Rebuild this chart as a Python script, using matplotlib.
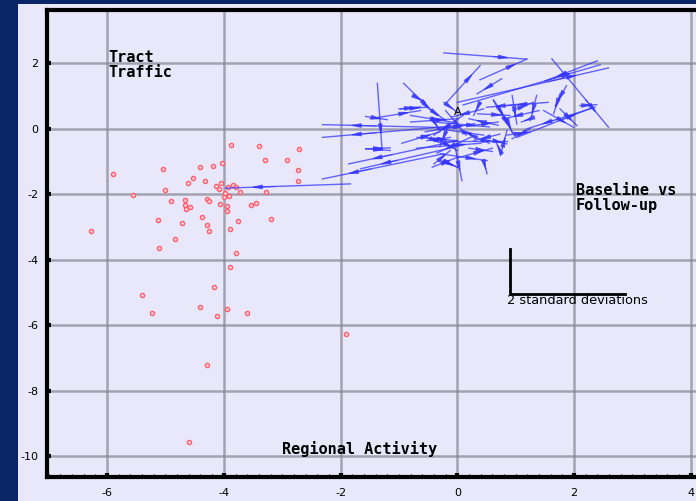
import numpy as np
import matplotlib.pyplot as plt
from matplotlib.patches import Rectangle

plt.rcParams['axes.unicode_minus'] = False

# red points (baseline regional activity)
red_x = [-3.88, -3.40, -2.72, -4.04, -3.30, -2.91, -2.73, -2.73, -4.40, -4.19,
         -5.04, -5.90, -4.52, -4.62, -4.33, -4.05, -4.14, -4.09, -5.01, -3.85,
         -3.93, -3.79, -3.73, -3.27, -5.56, -3.98, -4.00, -3.91, -4.91, -4.66,
         -4.29, -4.26, -4.66, -4.58, -4.64, -4.07, -3.95, -3.95, -3.45, -3.53,
         -4.38, -5.13, -4.71, -4.28, -4.26, -3.75, -3.19, -6.27, -3.89, -4.83,
         -5.11, -3.79, -3.89, -4.17, -5.41, -4.40, -3.94, -5.23, -4.12, -3.60,
         -1.90, -4.28, -4.59]
red_y = [-0.51, -0.53, -0.61, -1.04, -0.96, -0.96, -1.28, -1.59, -1.18, -1.14,
         -1.23, -1.39, -1.51, -1.67, -1.59, -1.65, -1.75, -1.85, -1.89, -1.72,
         -1.78, -1.80, -1.93, -1.93, -2.04, -1.97, -2.08, -2.05, -2.22, -2.18,
         -2.15, -2.20, -2.34, -2.41, -2.47, -2.31, -2.38, -2.52, -2.26, -2.32,
         -2.69, -2.79, -2.89, -2.93, -3.14, -2.82, -2.75, -3.14, -3.08, -3.38,
         -3.65, -3.79, -4.22, -4.83, -5.09, -5.45, -5.52, -5.64, -5.72, -5.64,
         -6.27, -7.22, -9.56]

# blue arrows (tract traffic): start -> end
arr_x0 = [-0.23, 0.39, 0.00, 0.10, 1.62, 2.40, -1.37, 0.00, 0.00, 0.00,
          -0.06, -0.23, -1.83, -1.57, -0.92, -1.49, -1.00, -0.18, 0.76, 1.87,
          1.56, 1.36, 0.62, 0.94, 1.76, 2.36, 2.10, 1.48, 1.25, 1.25,
          0.85, 0.39, 0.73, -0.29, -0.06, 0.45, -0.29, -0.29, 0.76, 0.62,
          -0.69, -0.75, -0.23, -0.46, -0.40, -0.23, -0.29, -0.80, -0.52, -0.97,
          -1.57, -1.57, -0.43, 0.74, 0.62, 1.76, 0.85, 1.02, 0.30, -0.35,
          0.20, -0.60, 1.40, 0.35, -0.80, -0.55, -0.20, 0.10, -0.70, 0.25,
          0.45, -0.40, 0.00, -0.95, 0.55, -0.15, 0.70, -0.60, 1.10, 0.95]
arr_y0 = [2.31, 1.49, 0.80, 0.72, 2.13, 2.07, 1.38, 0.09, 0.02, -0.37,
          -0.57, -0.77, -1.69, -0.62, 1.38, 0.30, 0.60, 0.80, 1.52, 1.31,
          0.80, 1.01, 0.88, 1.01, 0.60, 0.65, 0.70, 0.55, 0.30, -0.01,
          0.30, 0.80, -0.17, -0.37, -0.37, -0.98, -0.77, -0.98, -0.77, -0.37,
          -0.27, 1.00, 0.80, 0.35, -1.08, -0.98, -0.37, 0.20, -0.37, 0.60,
          0.37, -0.62, -1.18, -0.82, 0.85, 1.06, -0.20, -0.27, 0.10, 0.00,
          -0.60, -0.20, 0.55, 0.45, 0.40, -0.10, 0.55, 0.40, -0.60, -0.25,
          0.60, 0.20, -0.90, -0.45, -0.45, 0.10, 0.10, 0.75, 0.75, 0.55]
arr_x1 = [1.19, 1.19, 2.59, 2.45, 2.59, 1.50, -1.29, -2.31, -2.31, -1.86,
          -1.66, -2.31, -3.97, -1.15, -0.35, -0.63, -0.63, 0.39, 0.34, 1.68,
          0.85, 1.25, 0.85, 1.02, 2.05, 1.19, 2.39, 1.99, 1.10, 0.94,
          0.94, 0.28, 0.28, 0.85, 0.08, 0.51, 0.51, 0.00, 0.65, 0.85,
          0.00, -0.55, 0.00, -0.29, -0.12, 0.00, 0.00, 0.00, -0.12, -0.52,
          -1.20, -1.15, 0.00, 0.85, 0.96, 1.65, 1.25, 2.33, 0.70, 0.45,
          0.60, -0.20, 0.80, 0.90, -0.10, 0.30, 0.15, -0.40, 0.40, -0.35,
          -0.10, 0.55, 0.60, -0.30, 0.05, -0.30, 0.20, -0.20, 0.50, 1.30]
arr_y1 = [2.12, 2.12, 1.85, 1.95, 0.04, 1.45, -0.62, -0.27, 0.12, -1.08,
          -1.23, -1.54, -1.82, -0.59, 0.40, 0.55, 0.66, 1.92, 1.06, 0.70,
          0.70, 0.24, 0.24, 0.14, 0.09, -0.01, 0.73, 0.04, 0.20, -0.31,
          -0.12, 0.40, -0.37, -0.37, -1.59, -1.38, -0.98, -1.18, -0.37, -0.47,
          -0.37, 0.80, 0.50, -0.06, -0.67, -1.18, -0.67, 0.30, -0.27, 0.65,
          0.27, -0.67, -0.88, -0.06, -0.16, 0.45, -0.10, 0.65, 0.20, -0.20,
          -0.70, -0.50, 0.30, 0.40, 0.20, 0.15, -0.20, -0.20, -0.45, -0.75,
          0.35, 0.05, -0.60, -0.10, -0.05, -0.55, 0.30, 0.25, 0.65, 0.80]

x_ticks = [-6, -4, -2, 0, 2, 4]
y_ticks = [-10, -8, -6, -4, -2, 0, 2]

fig = plt.figure(figsize=(6.96, 5.01), dpi=100)
fig.patch.set_facecolor('#0a2468')
# light panel behind the plot
fig.patches.append(Rectangle((18 / 696, 0), 1, 1 - 4 / 501, transform=fig.transFigure,
                             facecolor='#e8e8fa', edgecolor='none', zorder=-10))

ax = fig.add_axes([47 / 696, 24 / 501, 1 - 47 / 696, 467 / 501])
ax.set_facecolor('#e8e8fa')
ax.set_xlim(-7.03, 4.09)
ax.set_ylim(-10.64, 3.62)
ax.set_xticks(x_ticks)
ax.set_yticks(y_ticks)
ax.set_xticks(np.arange(-7.0, 4.1, 0.2), minor=True)
ax.grid(True, which='major', color='#8a8a96', lw=1.8, alpha=0.75)
ax.set_axisbelow(True)
for s in ['left', 'bottom', 'top']:
    ax.spines[s].set_linewidth(3)
    ax.spines[s].set_color('black')
ax.spines['right'].set_visible(False)
ax.tick_params(which='major', direction='in', length=3, width=3, labelsize=8, pad=6)
ax.tick_params(which='minor', axis='x', direction='in', length=2, width=1)
ax.tick_params(axis='x', pad=8)

# red points
ax.plot(red_x, red_y, 'o', ms=3, mfc='#ffd0d8', mec='#ff6070', mew=1, zorder=3)

# blue arrows, line plus a narrow head part way along
blue = '#3535ff'
for x0, y0, x1, y1 in zip(arr_x0, arr_y0, arr_x1, arr_y1):
    ax.plot([x0, x1], [y0, y1], color=blue, lw=1, alpha=0.75, zorder=4)
    hx0, hy0 = x0 + 0.6 * (x1 - x0), y0 + 0.6 * (y1 - y0)
    hx1, hy1 = x0 + 0.8 * (x1 - x0), y0 + 0.8 * (y1 - y0)
    ax.annotate('', xy=(hx1, hy1), xytext=(hx0, hy0),
                arrowprops=dict(arrowstyle='-|>,head_width=0.16,head_length=0.8',
                                mutation_scale=8, color=blue, lw=0.8, alpha=0.75,
                                shrinkA=0, shrinkB=0), zorder=5)

ax.text(0.01, 0.52, 'A', fontsize=8, ha='center', va='center', zorder=6)

mono = dict(family='DejaVu Sans Mono', fontweight='bold', fontsize=11)
ax.text(-5.97, 2.4, 'Tract\nTraffic', va='top', ha='left', linespacing=1.0, **mono)
ax.text(2.03, -1.66, 'Baseline vs\nFollow-up', va='top', ha='left', linespacing=1.0, **mono)
ax.text(-3.01, -9.77, 'Regional Activity', va='center', ha='left', **mono)

# scale bar
ax.plot([0.906, 0.906, 2.87], [-3.69, -5.04, -5.04], color='black', lw=2, zorder=6)
ax.text(0.85, -5.25, '2 standard deviations', fontsize=9.3, va='center', ha='left', zorder=6)

fig.savefig('out.png', dpi=100, facecolor=fig.get_facecolor())
